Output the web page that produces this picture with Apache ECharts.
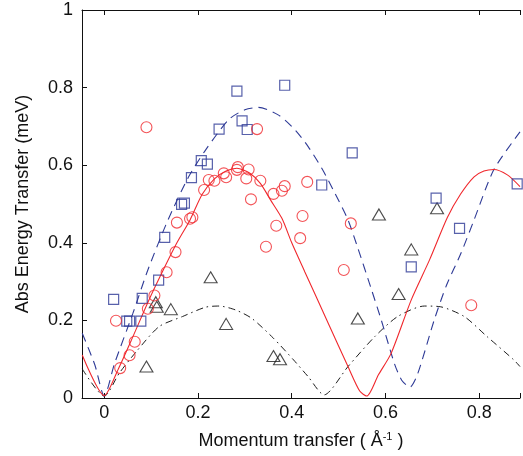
<!DOCTYPE html>
<html>
<head>
<meta charset="utf-8">
<script src="https://cdn.jsdelivr.net/npm/echarts@6/dist/echarts.min.js"></script>
<style>
  html, body { margin: 0; padding: 0; background: #fff; }
  #main { width: 523px; height: 456px; }
</style>
</head>
<body>
<div id="main"></div>
<script>
// measured points (momentum transfer, energy)
var redQ = [0.090, 0.025, 0.034, 0.054, 0.065, 0.093, 0.107, 0.133, 0.152, 0.155, 0.183, 0.188, 0.213, 0.223, 0.235, 0.255, 0.260, 0.283, 0.285, 0.308, 0.303, 0.313, 0.326, 0.333, 0.345, 0.361, 0.367, 0.379, 0.385, 0.418, 0.423, 0.433, 0.511, 0.526, 0.783]
var redE = [0.698, 0.199, 0.077, 0.110, 0.145, 0.230, 0.264, 0.324, 0.376, 0.452, 0.462, 0.466, 0.536, 0.562, 0.560, 0.579, 0.569, 0.588, 0.595, 0.589, 0.566, 0.512, 0.693, 0.560, 0.390, 0.526, 0.444, 0.534, 0.546, 0.412, 0.469, 0.557, 0.330, 0.450, 0.239]

var blueQ = [0.020, 0.048, 0.054, 0.078, 0.081, 0.116, 0.129, 0.165, 0.171, 0.186, 0.207, 0.220, 0.245, 0.283, 0.294, 0.305, 0.385, 0.464, 0.529, 0.655, 0.708, 0.758, 0.881]
var blueE = [0.254, 0.198, 0.198, 0.198, 0.257, 0.304, 0.414, 0.499, 0.502, 0.568, 0.612, 0.603, 0.693, 0.791, 0.714, 0.692, 0.806, 0.549, 0.632, 0.338, 0.515, 0.437, 0.552]

var blackQ = [0.090, 0.110, 0.112, 0.142, 0.227, 0.260, 0.361, 0.375, 0.541, 0.586, 0.628, 0.655, 0.710]
var blackE = [0.081, 0.247, 0.235, 0.229, 0.311, 0.191, 0.108, 0.100, 0.205, 0.473, 0.268, 0.383, 0.489]

// model curves
var redLineQ = [-0.047, 0, 0.03, 0.06, 0.097, 0.13, 0.155, 0.183, 0.209, 0.235, 0.26, 0.283, 0.31, 0.333, 0.355, 0.379, 0.40, 0.428, 0.45, 0.48, 0.52, 0.545, 0.56, 0.585, 0.612, 0.655, 0.694, 0.732, 0.76, 0.789, 0.81, 0.831, 0.86, 0.887]
var redLineE = [0.111, 0.006, 0.075, 0.155, 0.257, 0.34, 0.40, 0.459, 0.525, 0.565, 0.585, 0.592, 0.58, 0.553, 0.51, 0.463, 0.40, 0.325, 0.267, 0.187, 0.081, 0.018, 0.005, 0.06, 0.115, 0.253, 0.356, 0.465, 0.525, 0.570, 0.585, 0.589, 0.575, 0.545]

var blueLineQ = [-0.047, -0.02, 0, 0.022, 0.061, 0.093, 0.136, 0.18, 0.216, 0.266, 0.30, 0.329, 0.372, 0.407, 0.435, 0.465, 0.492, 0.52, 0.54, 0.57, 0.591, 0.619, 0.635, 0.652, 0.668, 0.704, 0.73, 0.761, 0.789, 0.831, 0.887]
var blueLineE = [0.167, 0.085, 0.005, 0.089, 0.218, 0.33, 0.459, 0.57, 0.639, 0.718, 0.743, 0.749, 0.729, 0.691, 0.648, 0.59, 0.528, 0.459, 0.39, 0.28, 0.201, 0.089, 0.045, 0.028, 0.06, 0.201, 0.29, 0.373, 0.459, 0.588, 0.686]

var blackLineQ = [-0.047, 0, 0.032, 0.068, 0.117, 0.167, 0.216, 0.245, 0.28, 0.315, 0.361, 0.404, 0.435, 0.469, 0.52, 0.577, 0.626, 0.683, 0.718, 0.768, 0.817, 0.874, 0.887]
var blackLineE = [0.075, 0.005, 0.064, 0.119, 0.184, 0.21, 0.234, 0.237, 0.227, 0.205, 0.154, 0.098, 0.055, 0.008, 0.081, 0.158, 0.21, 0.237, 0.235, 0.21, 0.158, 0.098, 0.081]

var yTicks = [0, 0.2, 0.4, 0.6, 0.8, 1]

function pairs(xs, ys) {
  var out = []
  for (var i = 0; i < xs.length; i++) out.push([xs[i], ys[i]])
  return out
}

var RED = '#f0282d'
var BLUE = '#2e3a96'
var BLACK = '#1e1e1e'
var FONT = 'Liberation Sans'

function hideOffTicks(v) {
  var k = v / 0.2
  return Math.abs(k - Math.round(k)) < 1e-6 ? String(Math.round(k * 2) / 10) : ''
}

var chart = echarts.init(document.getElementById('main'))
chart.setOption({
  animation: false,
  backgroundColor: '#fff',
  grid: { left: 82, right: 0, top: 10, bottom: 58 },
  xAxis: [{
    type: 'value',
    min: -0.0475,
    max: 0.887,
    splitNumber: 5,
    name: 'Momentum transfer ( Å{sup|-1} )',
    nameLocation: 'middle',
    nameGap: 33,
    nameTextStyle: {
      fontFamily: FONT, fontSize: 18, color: '#111',
      rich: { sup: { fontFamily: FONT, fontSize: 11, color: '#111', verticalAlign: 'top', padding: [0, 0, 9, 0] } }
    },
    axisLine: { onZero: false, lineStyle: { color: '#111', width: 1 } },
    axisTick: { inside: true, length: 5, lineStyle: { color: '#111' } },
    axisLabel: { formatter: hideOffTicks, fontFamily: FONT, fontSize: 18, color: '#111', margin: 6 },
    splitLine: { show: false }
  }, {
    type: 'value',
    position: 'top',
    min: -0.0475,
    max: 0.887,
    splitNumber: 5,
    axisLine: { onZero: false, lineStyle: { color: '#111', width: 1 } },
    axisTick: { inside: true, length: 5, lineStyle: { color: '#111' } },
    axisLabel: { show: false },
    splitLine: { show: false }
  }],
  yAxis: {
    type: 'value',
    min: yTicks[0],
    max: yTicks[yTicks.length - 1],
    interval: 0.2,
    name: 'Abs Energy Transfer (meV)',
    nameLocation: 'middle',
    nameGap: 50,
    nameTextStyle: { fontFamily: FONT, fontSize: 18, color: '#111' },
    axisLine: { show: true, onZero: false, lineStyle: { color: '#111', width: 1 } },
    axisTick: { show: true, inside: true, length: 5, lineStyle: { color: '#111' } },
    axisLabel: {
      fontFamily: FONT, fontSize: 18, color: '#111', margin: 9,
      formatter: function (v) { return String(Math.round(v * 10) / 10) }
    },
    splitLine: { show: false }
  },
  series: [
    {
      type: 'line', data: pairs(blackLineQ, blackLineE), showSymbol: false, smooth: 0.25,
      lineStyle: { color: BLACK, width: 1, type: [7, 4, 1.5, 4] }, z: 2
    },
    {
      type: 'line', data: pairs(blueLineQ, blueLineE), showSymbol: false, smooth: 0.25,
      lineStyle: { color: BLUE, width: 1.1, type: [9, 6] }, z: 2
    },
    {
      type: 'line', data: pairs(redLineQ, redLineE), showSymbol: false, smooth: 0.25,
      lineStyle: { color: RED, width: 1.1 }, z: 2
    },
    {
      type: 'scatter', data: pairs(blackQ, blackE), symbol: 'triangle', symbolSize: [13, 11],
      itemStyle: { color: 'rgba(0,0,0,0)', borderColor: BLACK, borderWidth: 1.1 }, z: 3
    },
    {
      type: 'scatter', data: pairs(blueQ, blueE), symbol: 'rect', symbolSize: 10,
      itemStyle: { color: 'rgba(0,0,0,0)', borderColor: BLUE, borderWidth: 1.2 }, z: 3
    },
    {
      type: 'scatter', data: pairs(redQ, redE), symbol: 'circle', symbolSize: 11,
      itemStyle: { color: 'rgba(0,0,0,0)', borderColor: RED, borderWidth: 1.1 }, z: 4
    }
  ]
})
</script>
</body>
</html>
